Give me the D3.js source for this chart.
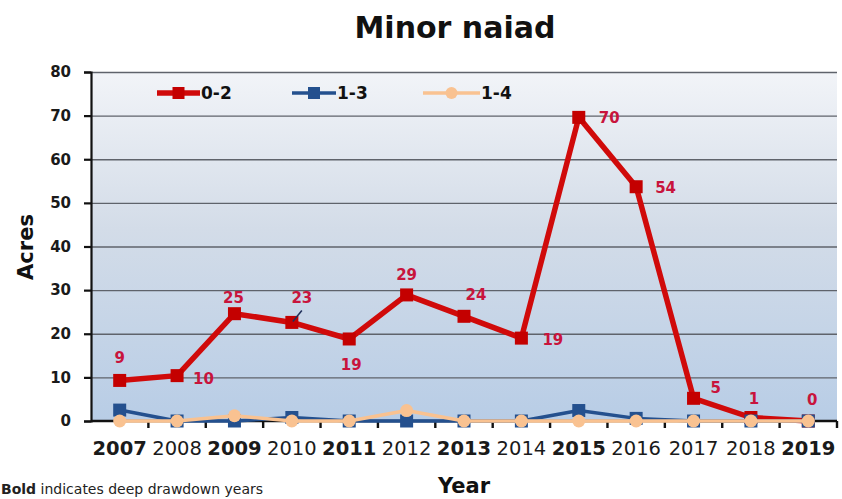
<!DOCTYPE html>
<html>
<head>
<meta charset="utf-8">
<script src="https://cdn.jsdelivr.net/npm/d3@7/dist/d3.min.js"></script>
<style>
  html, body { margin: 0; padding: 0; background: #fff; overflow: hidden; }
  text { font-family: "DejaVu Sans", sans-serif; }
</style>
</head>
<body>
<div id="chart"></div>
<script>
// Minor naiad coverage (acres) per year, three drawdown depth classes.

const years = ["2007","2008","2009","2010","2011","2012","2013","2014","2015","2016","2017","2018","2019"];

// years printed in bold on the x axis (deep drawdown years)
const deepDrawdownYears = ["2007","2009","2011","2013","2015","2019"];

const seriesNames  = ["0-2", "1-3", "1-4"];
const acres0to2    = [9.3, 10.4, 24.6, 22.6, 18.8, 28.9, 24, 19, 69.6, 53.7, 5.2, 0.8, 0];
const acres1to3    = [2.5, 0, 0, 0.8, 0, 0, 0, 0, 2.4, 0.6, 0, 0, 0];
const acres1to4    = [0, 0, 1.2, 0, 0, 2.4, 0, 0, 0, 0, 0, 0, 0];

// value labels printed on the 0-2 line
const labels0to2   = ["9","10","25","23","19","29","24","19","70","54","5","1","0"];

const yTicks = [0, 10, 20, 30, 40, 50, 60, 70, 80];


const width  = 842;
const height = 499;
const plot   = { left: 91, right: 837, top: 72, bottom: 421 };

const svg = d3.select("#chart")
  .append("svg")
  .attr("width",  width)
  .attr("height", height)
  .style("display", "block");

svg.append("rect")
  .attr("width",  width)
  .attr("height", height)
  .attr("fill", "#ffffff");

const xScale = d3.scaleBand()
  .domain(years)
  .range([plot.left, plot.right]);

const xCenter = year => xScale(year) + xScale.bandwidth() / 2;

const yScale = d3.scaleLinear()
  .domain([0, 80])
  .range([plot.bottom, plot.top]);


// PLOT BACKGROUND (light at the top, blue toward the bottom)

const gradient = svg.append("defs")
  .append("linearGradient")
  .attr("id", "plotFill")
  .attr("x1", 0).attr("y1", 0)
  .attr("x2", 0).attr("y2", 1);

gradient.append("stop").attr("offset", "0%").attr("stop-color", "#f2f4f8");
gradient.append("stop").attr("offset", "45%").attr("stop-color", "#d3dce8");
gradient.append("stop").attr("offset", "100%").attr("stop-color", "#b8cde6");

svg.append("rect")
  .attr("x", plot.left)
  .attr("y", plot.top)
  .attr("width",  plot.right - plot.left)
  .attr("height", plot.bottom - plot.top)
  .attr("fill", "url(#plotFill)");


// GRIDLINES

svg.append("g")
  .attr("transform", `translate(${plot.left}, 0)`)
  .call(
    d3.axisLeft(yScale)
      .tickValues(yTicks.filter(t => t > 0))
      .tickSize(-(plot.right - plot.left))
      .tickFormat("")
  )
  .call(axis => axis.select(".domain").remove())
  .call(axis => axis.selectAll(".tick line")
    .attr("stroke", "#5f636b")
    .attr("stroke-width", 1.3)
  );


// Y AXIS

svg.append("g")
  .attr("transform", `translate(${plot.left}, 0)`)
  .call(
    d3.axisLeft(yScale)
      .tickValues(yTicks)
      .tickSize(7)
      .tickPadding(13)
  )
  .call(axis => axis.select(".domain")
    .attr("stroke", "#111")
    .attr("stroke-width", 2.2)
  )
  .call(axis => axis.selectAll(".tick line")
    .attr("stroke", "#111")
    .attr("stroke-width", 2.2)
  )
  .call(axis => axis.selectAll(".tick text")
    .attr("fill", "#1a1a1a")
    .attr("font-family", "DejaVu Sans, sans-serif")
    .attr("font-size", "15px")
    .attr("font-weight", "700")
  );

svg.append("text")
  .attr("transform", "rotate(-90)")
  .attr("x", -247)
  .attr("y", 33)
  .attr("text-anchor", "middle")
  .attr("fill", "#111")
  .attr("font-size", "21px")
  .attr("font-weight", "700")
  .text("Acres");


// X AXIS (ticks sit between the years, labels under each year)

svg.append("line")
  .attr("x1", plot.left)
  .attr("x2", plot.right)
  .attr("y1", plot.bottom)
  .attr("y2", plot.bottom)
  .attr("stroke", "#111")
  .attr("stroke-width", 2.4);

const boundaries = years.slice(1).map(y => xScale(y)).concat([plot.right]);

svg.append("g")
  .selectAll("line")
  .data(boundaries)
  .join("line")
  .attr("x1", d => d)
  .attr("x2", d => d)
  .attr("y1", plot.bottom)
  .attr("y2", plot.bottom + 7)
  .attr("stroke", "#111")
  .attr("stroke-width", 2.4);

svg.append("g")
  .selectAll("text")
  .data(years)
  .join("text")
  .attr("x", d => xCenter(d))
  .attr("y", 455)
  .attr("text-anchor", "middle")
  .attr("fill", "#1a1a1a")
  .attr("font-size", "19.5px")
  .attr("font-weight", d => deepDrawdownYears.includes(d) ? "700" : "400")
  .text(d => d);

svg.append("text")
  .attr("x", 464)
  .attr("y", 493)
  .attr("text-anchor", "middle")
  .attr("fill", "#111")
  .attr("font-size", "21px")
  .attr("font-weight", "700")
  .text("Year");


// TITLE + FOOTNOTE

svg.append("text")
  .attr("x", 455)
  .attr("y", 38)
  .attr("text-anchor", "middle")
  .attr("fill", "#111")
  .attr("font-size", "30px")
  .attr("font-weight", "700")
  .text("Minor naiad");

const footnote = svg.append("text")
  .attr("x", 1)
  .attr("y", 494)
  .attr("fill", "#222")
  .attr("font-size", "14px");

footnote.append("tspan").attr("font-weight", "700").text("Bold");
footnote.append("tspan").text(" indicates deep drawdown years");


// LINES

const series = [
  { name: seriesNames[0], values: acres0to2, color: "#d00a0a", marker: "#c40000", width: 5.5, shape: "square" },
  { name: seriesNames[1], values: acres1to3, color: "#24508e", marker: "#24508e", width: 3.5, shape: "square" },
  { name: seriesNames[2], values: acres1to4, color: "#f9c291", marker: "#f9c291", width: 3.5, shape: "circle" },
];

const lineGenerator = d3.line()
  .x((value, index) => xCenter(years[index]))
  .y(value => yScale(value));

series.forEach(s => {
  svg.append("path")
    .datum(s.values)
    .attr("fill", "none")
    .attr("stroke", s.color)
    .attr("stroke-width", s.width)
    .attr("stroke-linejoin", "round")
    .attr("d", lineGenerator);

  const markers = svg.append("g")
    .selectAll("rect")
    .data(s.values)
    .join("rect")
    .attr("x", (value, index) => xCenter(years[index]) - 6.5)
    .attr("y", value => yScale(value) - 6.5)
    .attr("width", 13)
    .attr("height", 13)
    .attr("fill", s.marker);

  if (s.shape === "circle") markers.attr("rx", 6.5).attr("ry", 6.5);
});


// VALUE LABELS on the 0-2 line
// placement per point: [dx, dy, anchor] relative to the marker

const labelPlacement = [
  [0, -17, "middle"], [16, 8, "start"], [-1, -11, "middle"], [10, -19, "middle"],
  [2, 31, "middle"], [0, -15, "middle"], [12, -16, "middle"], [21, 7, "start"],
  [20, 6, "start"], [19, 6, "start"], [17, -5, "start"], [3, -14, "middle"],
  [4, -16, "middle"],
];

svg.append("g")
  .selectAll("text")
  .data(labels0to2)
  .join("text")
  .attr("x", (label, index) => xCenter(years[index]) + labelPlacement[index][0])
  .attr("y", (label, index) => yScale(acres0to2[index]) + labelPlacement[index][1])
  .attr("text-anchor", (label, index) => labelPlacement[index][2])
  .attr("fill", "#c8143c")
  .attr("font-size", "15px")
  .attr("font-weight", "700")
  .text(d => d);

// small leader line from the "23" label to its marker
const leaderIndex = years.indexOf("2010");
svg.append("line")
  .attr("x1", xCenter(years[leaderIndex]) + 10)
  .attr("y1", yScale(acres0to2[leaderIndex]) - 12)
  .attr("x2", xCenter(years[leaderIndex]) + 1)
  .attr("y2", yScale(acres0to2[leaderIndex]) - 1)
  .attr("stroke", "#1f2f5a")
  .attr("stroke-width", 1.5);


// LEGEND (inside the plot, top row)

const legendItems = [
  { series: series[0], x: 157, textX: 201 },
  { series: series[1], x: 292, textX: 337 },
  { series: series[2], x: 423, textX: 481 },
];

const legendY = 93;

legendItems.forEach(item => {
  const lineEnd = item.textX - 1;
  svg.append("line")
    .attr("x1", item.x)
    .attr("x2", lineEnd)
    .attr("y1", legendY)
    .attr("y2", legendY)
    .attr("stroke", item.series.color)
    .attr("stroke-width", item.series.width);

  const mid = (item.x + lineEnd) / 2;
  const marker = svg.append("rect")
    .attr("x", mid - 6)
    .attr("y", legendY - 6)
    .attr("width", 12)
    .attr("height", 12)
    .attr("fill", item.series.marker);
  if (item.series.shape === "circle") marker.attr("rx", 6).attr("ry", 6);

  svg.append("text")
    .attr("x", item.textX)
    .attr("y", legendY)
    .attr("dy", "0.36em")
    .attr("fill", "#111")
    .attr("font-size", "17px")
    .attr("font-weight", "700")
    .text(item.series.name);
});
</script>
</body>
</html>
